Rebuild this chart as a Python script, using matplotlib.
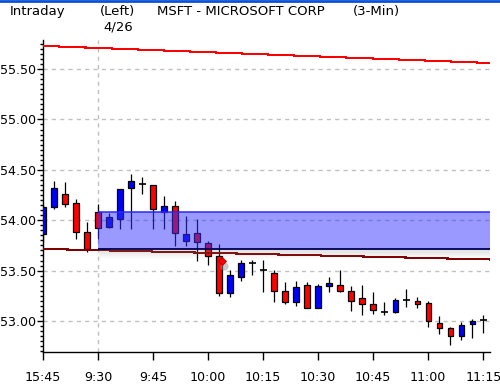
import numpy as np
import matplotlib.pyplot as plt
from matplotlib.lines import Line2D

# 3-min bars, last 5 of 4/25 then 4/26 from the open
times = ["15:45", "15:48", "15:51", "15:54", "15:57",
         "9:30", "9:33", "9:36", "9:39", "9:42", "9:45", "9:48", "9:51", "9:54", "9:57",
         "10:00", "10:03", "10:06", "10:09", "10:12", "10:15", "10:18", "10:21", "10:24", "10:27",
         "10:30", "10:33", "10:36", "10:39", "10:42", "10:45", "10:48", "10:51", "10:54", "10:57",
         "11:00", "11:03", "11:06", "11:09", "11:12", "11:15"]

opens = [53.86, 54.13, 54.26, 54.17, 53.88, 54.08, 53.93, 54.01, 54.32, 54.36,
         54.35, 54.08, 54.14, 53.79, 53.87, 53.77, 53.64, 53.28, 53.44, 53.58,
         53.51, 53.48, 53.30, 53.19, 53.36, 53.13, 53.35, 53.36, 53.30, 53.23,
         53.17, 53.09, 53.09, 53.21, 53.20, 53.18, 52.98, 52.93, 52.85, 52.97, 53.01]
highs = [54.15, 54.39, 54.38, 54.21, 53.98, 54.16, 54.07, 54.31, 54.46, 54.43,
         54.35, 54.24, 54.19, 54.04, 54.01, 53.79, 53.76, 53.51, 53.61, 53.61,
         53.61, 53.51, 53.39, 53.40, 53.39, 53.37, 53.44, 53.51, 53.35, 53.36,
         53.29, 53.19, 53.23, 53.32, 53.24, 53.20, 53.05, 52.94, 52.99, 53.02, 53.06]
lows = [53.78, 54.11, 54.13, 53.81, 53.68, 53.81, 53.92, 53.91, 53.91, 54.26,
        53.91, 53.91, 53.74, 53.74, 53.60, 53.56, 53.25, 53.24, 53.40, 53.46,
        53.29, 53.19, 53.17, 53.15, 53.13, 53.13, 53.29, 53.29, 53.10, 53.06,
        53.07, 53.06, 53.08, 53.14, 53.13, 52.94, 52.87, 52.76, 52.81, 52.83, 52.88]
closes = [54.13, 54.32, 54.16, 53.88, 53.71, 53.92, 54.03, 54.31, 54.39, 54.36,
          54.11, 54.14, 53.87, 53.86, 53.78, 53.64, 53.28, 53.46, 53.58, 53.58,
          53.51, 53.30, 53.19, 53.34, 53.13, 53.35, 53.38, 53.30, 53.20, 53.17,
          53.11, 53.09, 53.21, 53.21, 53.17, 53.00, 52.93, 52.85, 52.96, 53.00, 53.01]

tick_labels = ["15:45", "9:30", "9:45", "10:00", "10:15", "10:30", "10:45", "11:00", "11:15"]
session_open = "9:30"

# trend lines (start / end price) and the shaded zone
upper_line = (55.73, 55.56)
lower_line = (53.715, 53.61)
zone_low, zone_high = 53.715, 54.08
signal_time, signal_price = "10:03", 53.60

x = np.arange(len(times))
x_right = len(times) - 1 + 0.62
open_idx = times.index(session_open)

plt.rcParams['font.family'] = 'DejaVu Sans'
fig = plt.figure(figsize=(5, 3.89), dpi=100)
ax = fig.add_axes([0.086, 0.0951, 0.894, 0.802])

ax.set_xlim(0, x_right)
ax.set_ylim(52.692, 55.788)

# grid
for p in np.arange(53.0, 55.51, 0.5):
    ax.axhline(p, color="#c0c0c0", lw=1, dashes=(3, 3), zorder=0)
ax.axvline(open_idx, color="#c0c0c0", lw=1, dashes=(3, 3), zorder=0)

# candles
body_w = 0.48
for i in x:
    o, h, l, c = opens[i], highs[i], lows[i], closes[i]
    ax.vlines(i, l, h, color="black", lw=0.9, zorder=2)
    if c > o:
        col = "#0000ff"
    elif c < o:
        col = "#ff0000"
    else:
        ax.hlines(o, i - 0.32, i + 0.32, color="black", lw=1.2, zorder=3)
        continue
    ax.bar(i, abs(c - o), bottom=min(o, c), width=body_w, color=col,
           edgecolor="black", linewidth=0.9, zorder=3)

# trend lines
ax.plot([0, x_right], upper_line, color="#ff0000", lw=0.75, antialiased=False, zorder=4)
ax.plot([0, x_right], lower_line, color="#800000", lw=0.75, antialiased=False, zorder=4)

# shaded zone with a soft shadow under it
ax.fill_between([open_idx, x_right], zone_low, zone_high, color="#3434ff",
                alpha=0.5, lw=0, zorder=5)
for k in range(8):
    d = 0.012
    ax.fill_between([open_idx + 0.1, x_right], zone_low - d * (k + 1), zone_low - d * k,
                    color="gray", alpha=0.25 * (1 - k / 8), lw=0, zorder=4.5)
ax.hlines(zone_high, open_idx, x_right, color="#2828ff", lw=1.1, zorder=6)
ax.hlines(zone_low, open_idx, x_right, color="#000050", lw=1.3, zorder=6)

# signal pin
si = times.index(signal_time)
ax.plot(si + 0.45, signal_price - 0.05, "o", ms=6, color="#999999", alpha=0.5, mec="none", zorder=6)
ax.plot(si + 0.25, signal_price, "D", ms=4.5, color="#ff0000", mec="#b00000", mew=0.6, zorder=7)

# axes styling
for s in ["top", "right"]:
    ax.spines[s].set_visible(False)
ax.spines["left"].set_linewidth(1)
ax.spines["bottom"].set_linewidth(1)

ax.set_yticks(np.arange(53.0, 55.51, 0.5))
ax.set_yticklabels(["%.2f" % v for v in np.arange(53.0, 55.51, 0.5)])
ax.set_yticks(np.arange(52.70, 55.80, 0.05), minor=True)
ax.tick_params(axis="y", which="major", length=4.5, width=1, pad=0.8, labelsize=9.1)
ax.tick_params(axis="y", which="minor", length=2.4, width=1)

ax.set_xticks([times.index(t) for t in tick_labels])
ax.set_xticklabels(tick_labels)
ax.tick_params(axis="x", which="major", length=5.5, width=1, pad=8.5, labelsize=9.1)

# header
fig.text(10 / 500, 1 - 15 / 389, "Intraday", fontsize=9.5, va="baseline")
fig.text(100 / 500, 1 - 15 / 389, "(Left)", fontsize=9.5, va="baseline")
fig.text(103 / 500, 1 - 31 / 389, "4/26", fontsize=9.5, va="baseline")
fig.text(157 / 500, 1 - 15 / 389, "MSFT - MICROSOFT CORP", fontsize=9.5, va="baseline")
fig.text(353 / 500, 1 - 15 / 389, "(3-Min)", fontsize=9.5, va="baseline")
fig.add_artist(Line2D([0, 1], [1 - 1 / 389, 1 - 1 / 389], color="#0a50d8", lw=2,
                      transform=fig.transFigure))

fig.savefig("out.png", dpi=100)
